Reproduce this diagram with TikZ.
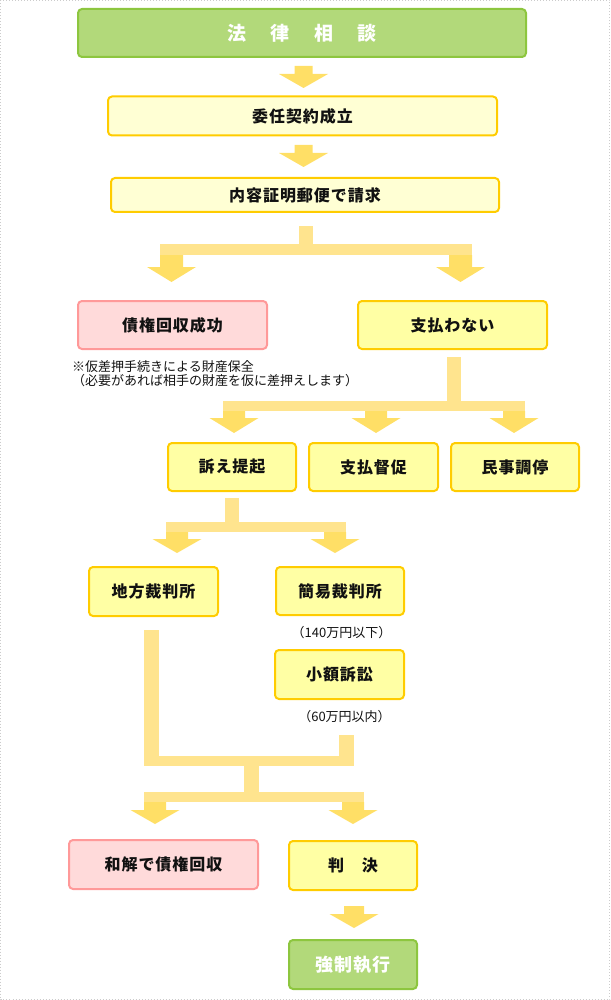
\documentclass[tikz,border=0pt]{standalone}
\usepackage{fontspec}
\newfontfamily\jplab[LetterSpace=6]{Noto Sans CJK JP}
\newfontfamily\jptitle[LetterSpace=14]{Noto Sans CJK JP}
\newfontfamily\jpwhite[LetterSpace=4]{Noto Sans CJK JP}
\newfontfamily\jpsmall{Noto Sans CJK JP}
\definecolor{gfill}{HTML}{B2D97A}
\definecolor{gline}{HTML}{8DC63F}
\definecolor{lyfill}{HTML}{FFFFD4}
\definecolor{yfill}{HTML}{FFFFA4}
\definecolor{yline}{HTML}{FFCC00}
\definecolor{pfill}{HTML}{FFDADA}
\definecolor{pline}{HTML}{FF9999}
\definecolor{headc}{HTML}{FFDF66}
\definecolor{barc}{HTML}{FFE48E}
\definecolor{framec}{HTML}{CCCCCC}
\definecolor{txt}{HTML}{111111}
\newcommand{\blkarrow}[5]{%
  \fill[headc] (#1-#2,#3) -- (#1+#2,#3) -- (#1+#2,#4) -- (#1+24.5,#4) -- (#1,#5)
    -- (#1-24.5,#4) -- (#1-#2,#4) -- cycle;}
\tikzset{
  basebox/.style={line width=2pt, rounded corners=4pt, inner sep=0pt, text=txt,
    font=\jplab\bfseries\fontsize{16}{18}\selectfont},
  gbox/.style={basebox, draw=gline, fill=gfill, text=white},
  lybox/.style={basebox, draw=yline, fill=lyfill},
  ybox/.style={basebox, draw=yline, fill=yfill},
  pbox/.style={basebox, draw=pline, fill=pfill},
  note/.style={inner sep=0pt, text=txt, font=\jpsmall\fontsize{13}{14}\selectfont},
}
\begin{document}
\begin{tikzpicture}[x=1pt,y=-1pt]
\useasboundingbox (0,0) rectangle (610,1000);
\draw[framec, dotted, line width=1pt] (0.5,0.5) rectangle (609.5,999.5);

% connectors (block arrows)
\blkarrow{303.5}{9}{66}{74}{88}
\blkarrow{303.5}{9}{145}{153}{167}
% branch 1
\fill[barc] (299,226) rectangle (313,244);
\fill[barc] (160,244) rectangle (472,255);
\blkarrow{171.5}{11.5}{255}{267}{282}
\blkarrow{460.5}{11.5}{255}{267}{282}
% branch 2
\fill[barc] (447,357) rectangle (461,401);
\fill[barc] (223,401) rectangle (525,411);
\blkarrow{234}{11}{411}{418}{433}
\blkarrow{376}{11}{411}{418}{433}
\blkarrow{514}{11}{411}{418}{433}
% branch 3
\fill[barc] (225,498) rectangle (239,522);
\fill[barc] (166,522) rectangle (346,532);
\blkarrow{177}{11}{532}{539}{553}
\blkarrow{335}{11}{532}{539}{553}
% merge
\fill[barc] (144,630) rectangle (159,766);
\fill[barc] (339,735) rectangle (354,766);
\fill[barc] (144,756) rectangle (354,766);
\fill[barc] (244,766) rectangle (259,792);
\fill[barc] (144,792) rectangle (364,802);
\blkarrow{155}{11}{802}{810}{824}
\blkarrow{353}{11}{802}{810}{824}
% final
\blkarrow{354}{10}{906}{914}{928}

% nodes
\node[gbox, minimum width=448pt, minimum height=48pt, font=\jptitle\bfseries\fontsize{19}{21}\selectfont] (n1) at (302,33) {法　律　相　談};
\node[lybox, minimum width=389pt, minimum height=39pt] (n2) at (302.5,116) {委任契約成立};
\node[lybox, minimum width=388pt, minimum height=34pt] (n3) at (305,195) {内容証明郵便で請求};
\node[pbox, minimum width=189pt, minimum height=48pt] (n4) at (172.5,325) {債権回収成功};
\node[ybox, minimum width=189pt, minimum height=48pt] (n5) at (452.5,325) {支払わない};
\node[note, anchor=west] (m1) at (72,366.5) {※仮差押手続きによる財産保全};
\node[note, anchor=west] (m2) at (72,380.5) {（必要があれば相手の財産を仮に差押えします）};
\node[ybox, minimum width=128pt, minimum height=48pt] (n6) at (232,467) {訴え提起};
\node[ybox, minimum width=129pt, minimum height=48pt] (n7) at (373.5,467) {支払督促};
\node[ybox, minimum width=128pt, minimum height=48pt] (n8) at (515,467) {民事調停};
\node[ybox, minimum width=129pt, minimum height=49pt] (n9) at (153.5,591.5) {地方裁判所};
\node[ybox, minimum width=128pt, minimum height=48pt] (n10) at (340,591) {簡易裁判所};
\node[note] (l1) at (341.5,633) {（140万円以下）};
\node[ybox, minimum width=129pt, minimum height=49pt] (n11) at (339.5,674.5) {小額訴訟};
\node[note] (l2) at (344.5,717) {（60万円以内）};
\node[pbox, minimum width=189pt, minimum height=49pt] (n12) at (163.5,864.5) {和解で債権回収};
\node[ybox, minimum width=128pt, minimum height=49pt] (n13) at (353,865.5) {判　決};
\node[gbox, minimum width=128pt, minimum height=49pt, font=\jpwhite\bfseries\fontsize{18}{20}\selectfont] (n14) at (353,964.5) {強制執行};
\end{tikzpicture}
\end{document}
